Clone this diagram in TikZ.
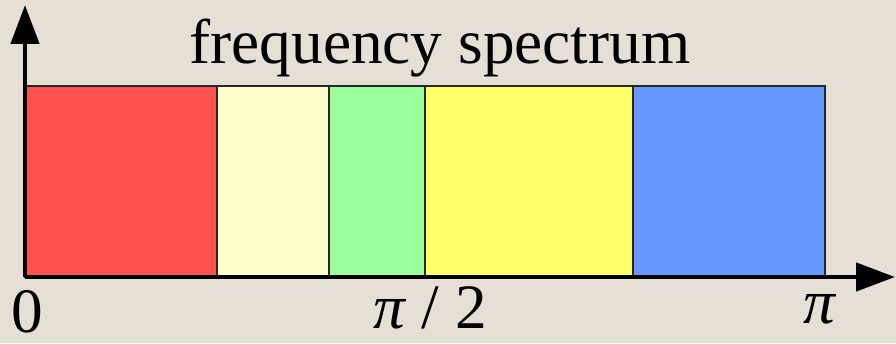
\documentclass[tikz,border=0pt]{standalone}
\usepackage{fontspec}
\setmainfont{Liberation Serif}
\usetikzlibrary{arrows.meta, positioning}
\definecolor{cpaper}{HTML}{E6DFD5}
\definecolor{cred}{HTML}{FF5050}
\definecolor{cpale}{HTML}{FFFFCC}
\definecolor{cgreen}{HTML}{99FF99}
\definecolor{cyellow}{HTML}{FFFF66}
\definecolor{cblue}{HTML}{6699FF}
\tikzset{
  every picture/.style={font=\fontsize{36}{40}\selectfont},
  band/.style={draw=black!85, fill=#1, line width=1pt, minimum height=3.82cm, inner sep=0pt, outer sep=0pt},
  axis/.style={-{Triangle[length=0.78cm, width=0.56cm]}, line width=2.6pt},
  tick/.style={anchor=base, inner sep=0pt},
}

\begin{document}
\begin{tikzpicture}[x=0.02cm, y=0.02cm]
  % background, 896 x 343 px
  \fill[cpaper] (0,0) rectangle (896,343);
  \useasboundingbox (0,0) rectangle (896,343);
  % bands of the spectrum
  \node[band=cred, minimum width=3.84cm, anchor=south west] (low) at (25,66) {};
  \node[band=cpale, minimum width=2.24cm, right=0pt of low] (midlow) {};
  \node[band=cgreen, minimum width=1.92cm, right=0pt of midlow] (mid) {};
  \node[band=cyellow, minimum width=4.16cm, right=0pt of mid] (midhigh) {};
  \node[band=cblue, minimum width=3.84cm, right=0pt of midhigh] (high) {};
  % axes
  \coordinate (origin) at (25,66);
  \coordinate (ytip) at (25,338);
  \coordinate (xtip) at (895,66);
  \draw[axis] (origin) -- (ytip);
  \draw[axis] (origin) -- (xtip);
  % labels
  \node[tick] (title) at (440,280) {frequency spectrum};
  \node[tick] (zero) at (27,11) {0};
  \node[tick] (half) at (430,15) {\textit{π} / 2};
  \node[tick] (pi) at (820,20) {\textit{π}};
\end{tikzpicture}
\end{document}
